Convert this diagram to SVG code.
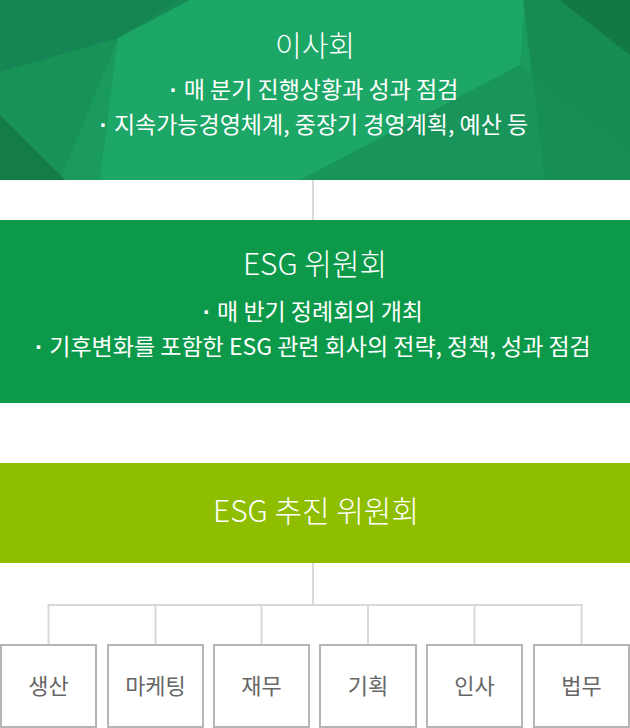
<svg xmlns="http://www.w3.org/2000/svg" width="630" height="728" viewBox="0 0 630 728">
<style>
.t{font-family:"Noto Sans CJK KR","Noto Sans",sans-serif;fill:#fff;text-anchor:middle}
.h{font-size:30px;font-weight:300}
.b{font-size:23px;font-weight:400}
.d{font-family:"Liberation Sans",sans-serif;font-weight:700}
.lbl{font-family:"Noto Sans CJK KR","Noto Sans",sans-serif;fill:#666;text-anchor:middle;font-size:22px}
.ln{stroke:#d9d9d9;stroke-width:2;fill:none}
.dept{fill:#fff;stroke:#b5b5b5;stroke-width:2}
</style>
<g id="board">
<rect x="0" y="0" width="630" height="180" fill="#1a9a5d"/>
<polygon points="180,0 525,0 520,65 300,180 100,180 118,38" fill="#1fb06d" opacity="0.6"/>
<polygon points="0,0 190,0 118,38 0,72" fill="#13764a" opacity="0.55"/>
<polygon points="0,72 118,38 60,180 0,115" fill="#168a52" opacity="0.5"/>
<polygon points="0,115 65,180 0,180" fill="#12703f" opacity="0.7"/>
<polygon points="523,0 630,0 630,180 545,180" fill="#158650" opacity="0.7"/>
<polygon points="560,0 630,0 630,55" fill="#11703f" opacity="0.7"/>
<polygon points="300,180 520,65 630,150 630,180" fill="#17905a" opacity="0.5"/>
<text class="t h" x="315" y="57" style="font-size:29px">이사회</text>
<text class="t b" x="314" y="98"><tspan class="d">· </tspan>매 분기 진행상황과 성과 점검</text>
<text class="t b" x="314" y="133"><tspan class="d">· </tspan>지속가능경영체계, 중장기 경영계획, 예산 등</text>
</g>
<g id="esg-committee">
<rect x="0" y="220" width="630" height="183" fill="#0c9a4a"/>
<text class="t h" x="315" y="275">ESG 위원회</text>
<text class="t b" x="313" y="320"><tspan class="d">· </tspan>매 반기 정례회의 개최</text>
<text class="t b" x="313" y="355"><tspan class="d">· </tspan>기후변화를 포함한 ESG 관련 회사의 전략, 정책, 성과 점검</text>
</g>
<g id="esg-promotion">
<rect x="0" y="463" width="630" height="100" fill="#8fbe00"/>
<text class="t h" x="316" y="522">ESG 추진 위원회</text>
</g>
<g id="connectors">
<line class="ln" x1="313" y1="180" x2="313" y2="220"/>
<polyline class="ln" points="313,563 313,605"/>
<line class="ln" x1="48.5" y1="605" x2="581.5" y2="605"/>
<line class="ln" x1="48.5" y1="604" x2="48.5" y2="645"/>
<line class="ln" x1="155.5" y1="604" x2="155.5" y2="645"/>
<line class="ln" x1="261.5" y1="604" x2="261.5" y2="645"/>
<line class="ln" x1="368" y1="604" x2="368" y2="645"/>
<line class="ln" x1="474.5" y1="604" x2="474.5" y2="645"/>
<line class="ln" x1="581.5" y1="604" x2="581.5" y2="645"/>
</g>
<g id="dept-production"><rect class="dept" x="1" y="645" width="95" height="82"/><text class="lbl" x="48.5" y="694">생산</text></g>
<g id="dept-marketing"><rect class="dept" x="108" y="645" width="95" height="82"/><text class="lbl" x="155.5" y="694">마케팅</text></g>
<g id="dept-finance"><rect class="dept" x="214" y="645" width="95" height="82"/><text class="lbl" x="261.5" y="694">재무</text></g>
<g id="dept-planning"><rect class="dept" x="320" y="645" width="96" height="82"/><text class="lbl" x="368" y="694">기획</text></g>
<g id="dept-hr"><rect class="dept" x="427" y="645" width="95" height="82"/><text class="lbl" x="474.5" y="694">인사</text></g>
<g id="dept-legal"><rect class="dept" x="534" y="645" width="95" height="82"/><text class="lbl" x="581.5" y="694">법무</text></g>
</svg>
